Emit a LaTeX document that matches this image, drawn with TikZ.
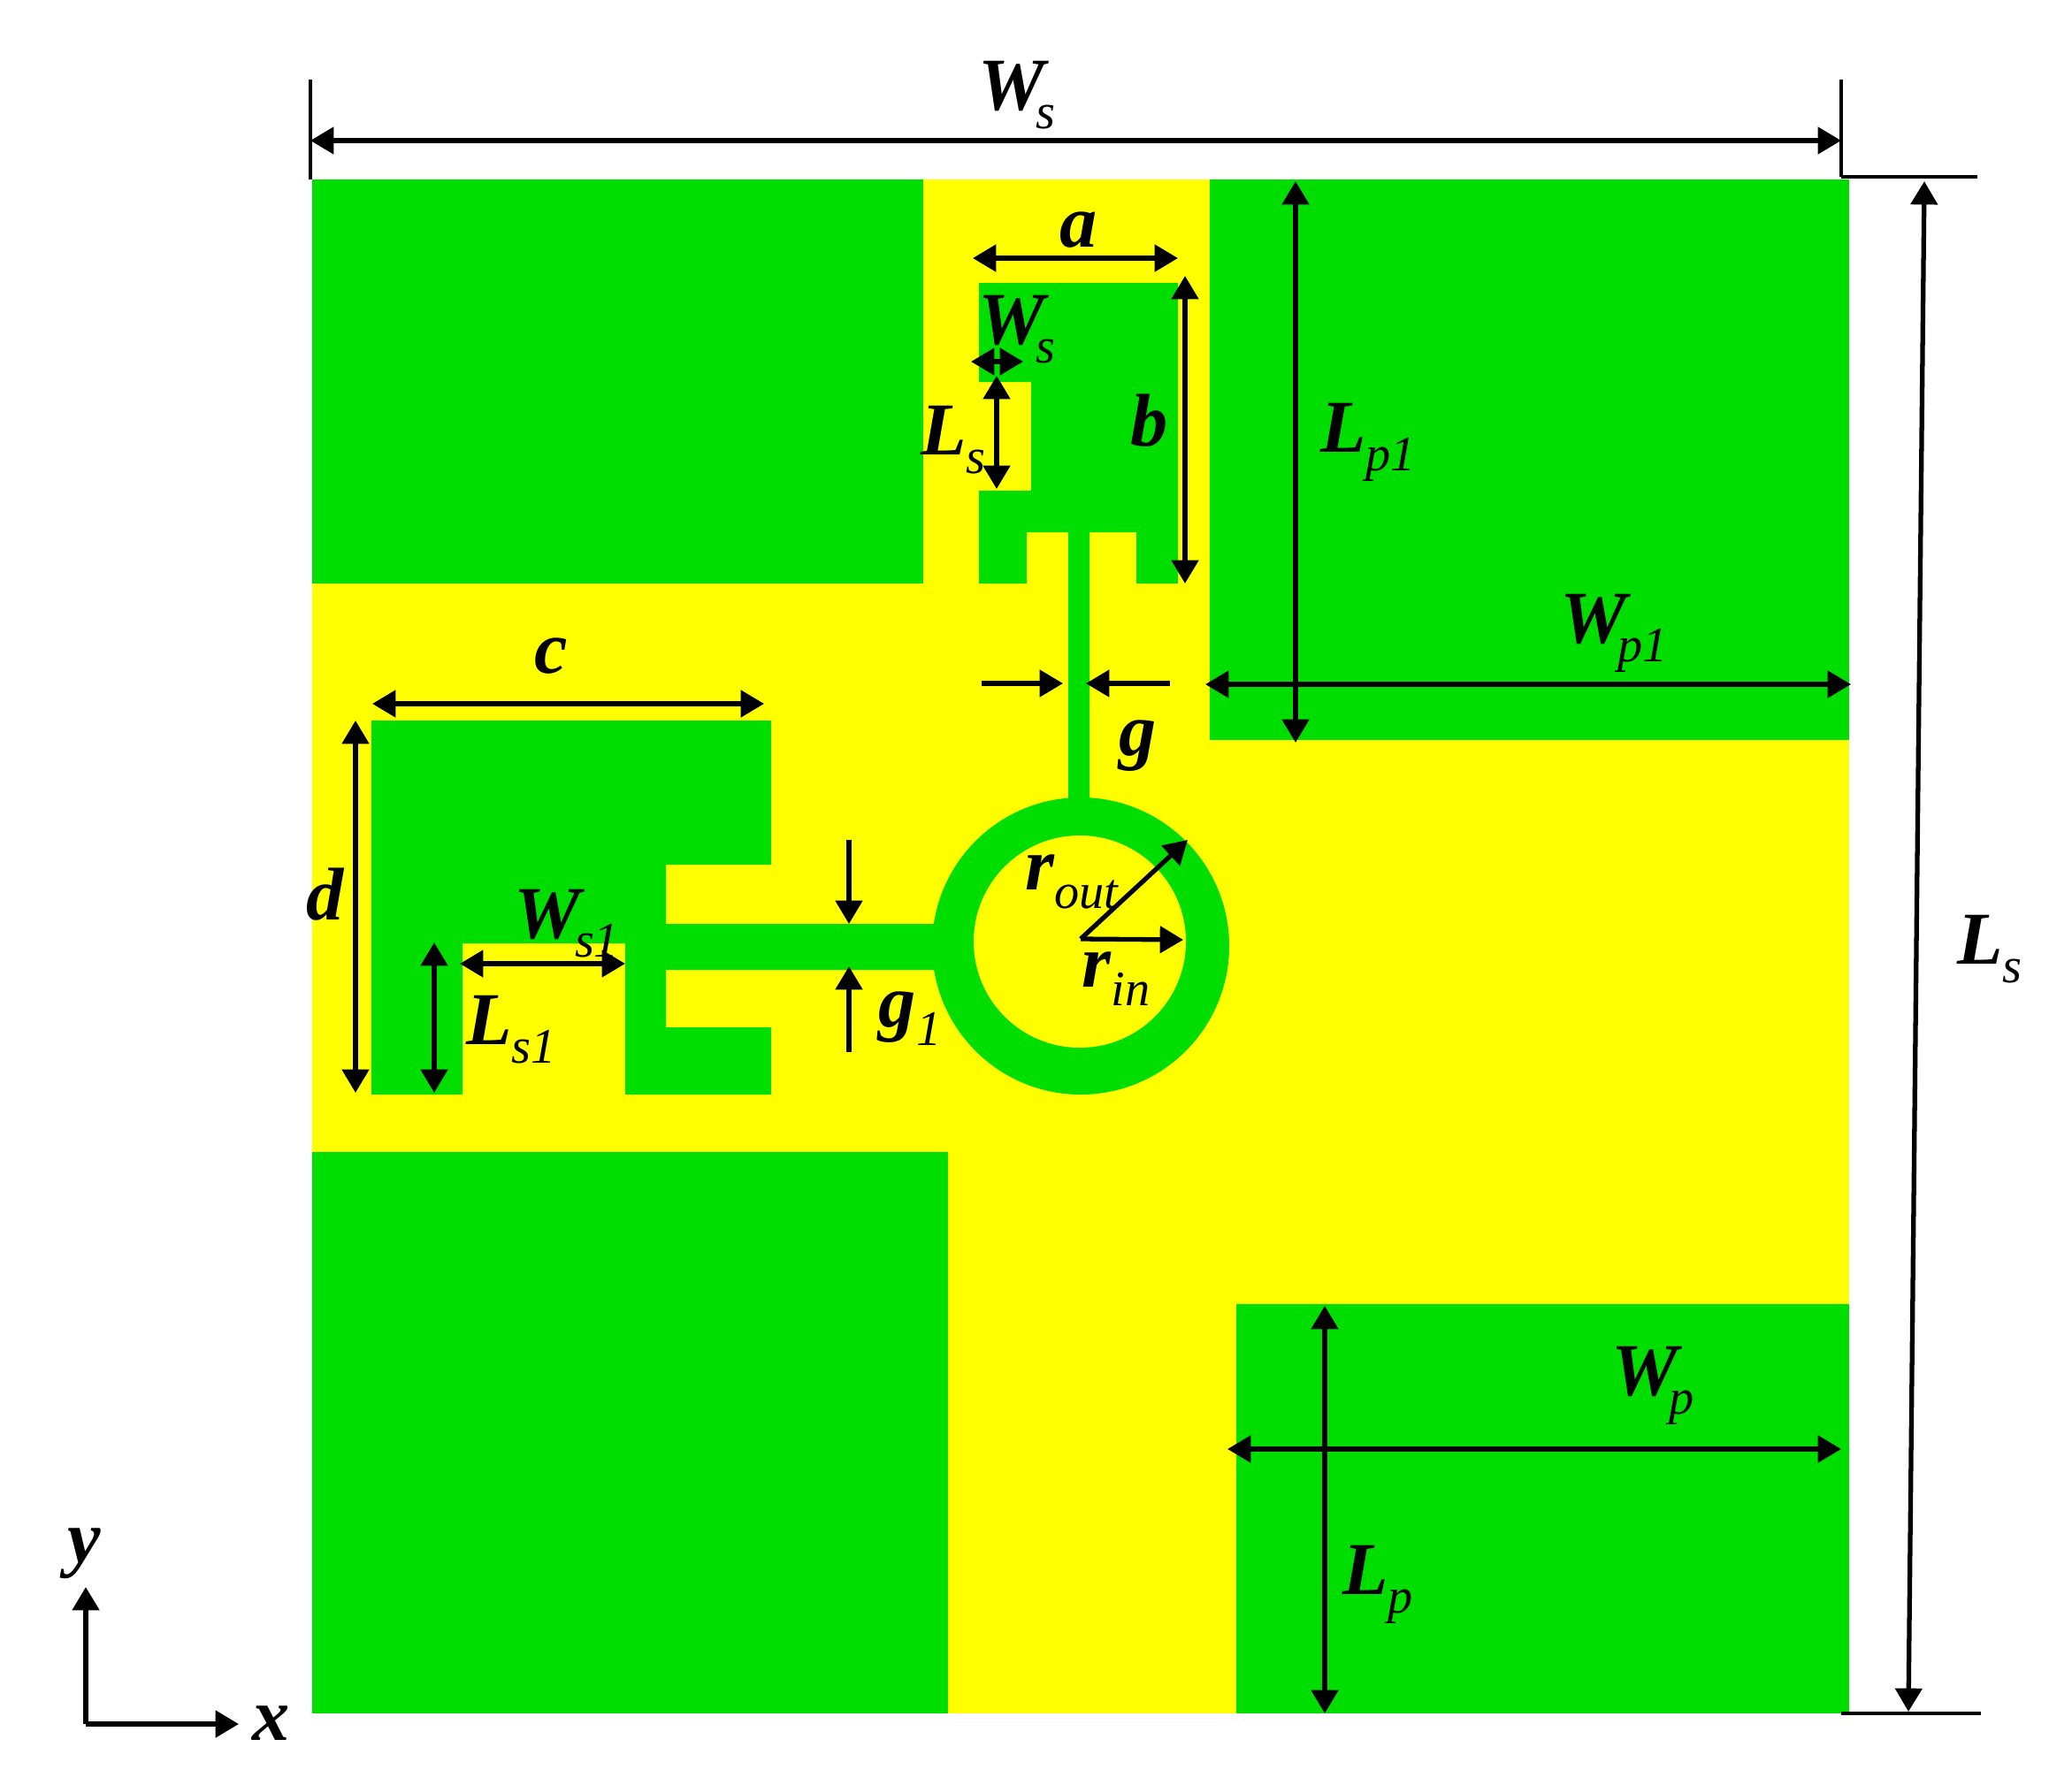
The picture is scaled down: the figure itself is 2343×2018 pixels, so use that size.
\documentclass[tikz,border=0pt]{standalone}
\usepackage{fontspec}
\setmainfont{Liberation Serif}
\usetikzlibrary{arrows.meta}
\definecolor{patchgreen}{RGB}{0,222,0}
\definecolor{subyellow}{RGB}{255,255,0}
\newcommand{\symb}[2]{{\bfseries\itshape #1}\raisebox{-6pt}{\fontsize{16}{16}\selectfont\itshape #2}}
\tikzset{
  patch/.style={fill=patchgreen},
  dimline/.style={line width=1.5pt,{Triangle[length=7.5pt,width=8.5pt]}-{Triangle[length=7.5pt,width=8.5pt]}},
  dimarrow/.style={line width=1.5pt,-{Triangle[length=7.5pt,width=8.5pt]}},
  extline/.style={line width=1.1pt},
  symbol/.style={inner sep=0pt,font=\fontsize{24}{24}\selectfont}
}
\begin{document}
\begin{tikzpicture}[x=0.01cm,y=-0.01cm]
\useasboundingbox (0,0) rectangle (2343,2018);
\fill[subyellow] (353,203) rectangle (2091,1938);
\fill[patch] (353,203) rectangle (1044,660);
\fill[patch] (1368,203) rectangle (2091,837);
\fill[patch] (353,1303) rectangle (1072,1938);
\fill[patch] (1398,1475) rectangle (2091,1938);
\fill[patch] (1107,320) -- (1332,320) -- (1332,660) -- (1285,660) -- (1285,602) -- (1232,602) -- (1232,920) -- (1208,920) -- (1208,602) -- (1161,602) -- (1161,660) -- (1107,660) -- (1107,555) -- (1166,555) -- (1166,432) -- (1107,432) -- cycle;
\fill[patch] (420,815) -- (872,815) -- (872,978) -- (753,978) -- (753,1045) -- (1080,1045) -- (1080,1097) -- (753,1097) -- (753,1162) -- (872,1162) -- (872,1238) -- (707,1238) -- (707,1067) -- (523,1067) -- (523,1238) -- (420,1238) -- cycle;
\fill[patch] (1222,1070) circle [radius=168];
\fill[subyellow] (1221,1065) circle [radius=120];

\draw[extline] (351,90) -- (351,203);
\draw[extline] (2082,90) -- (2082,200);
\draw[extline] (2082,200) -- (2236,200);
\draw[extline] (2082,1938) -- (2240,1938);
\draw[dimline] (351,159) -- (2082,159);
\draw[dimline] (2176,205) -- (2158,1936);
\draw[dimline] (1100,292) -- (1332,292);
\draw[dimline] (1340,312) -- (1340,660);
\draw[dimline] (1098,409) -- (1157,409);
\draw[dimline] (1127,425) -- (1127,553);
\draw[dimline] (421,796) -- (864,796);
\draw[dimline] (402,815) -- (402,1236);
\draw[dimline] (491,1066) -- (491,1236);
\draw[dimline] (520,1090) -- (707,1090);
\draw[dimarrow] (960,950) -- (960,1045);
\draw[dimarrow] (960,1190) -- (960,1093);
\draw[dimarrow] (1110,773) -- (1202,773);
\draw[dimarrow] (1323,773) -- (1228,773);
\draw[dimline] (1363,774) -- (2093,774);
\draw[dimline] (1465,205) -- (1465,840);
\draw[dimline] (1498,1477) -- (1498,1938);
\draw[dimline] (1388,1639) -- (2082,1639);
\coordinate (centre) at (1222,1062);
\draw[dimarrow,line join=miter] (centre) -- (1343,950);
\draw[dimarrow] (centre) -- (1338,1063);
\coordinate (origin) at (97,1950);
\draw[dimarrow] (origin) -- (97,1795);
\draw[dimarrow] (origin) -- (270,1950);

\node[symbol] (labelWs) at (1150,108) {\symb{W\kern-3pt}{s}};
\node[symbol] (labelLs) at (2250,1074) {\symb{L}{s}};
\node[symbol] (labela) at (1220,270) {\symb{a}{}};
\node[symbol] (labelb) at (1300,486) {\symb{b}{}};
\node[symbol] (labelWsn) at (1150,373) {\symb{W\kern-3pt}{s}};
\node[symbol] (labelLsn) at (1078,498) {\symb{L}{s}};
\node[symbol] (labelc) at (623,752) {\symb{c}{}};
\node[symbol] (labeld) at (368,1022) {\symb{d}{}};
\node[symbol] (labelLsone) at (578,1165) {\symb{L}{s1}};
\node[symbol] (labelWsone) at (641,1045) {\symb{W\kern-2pt}{s1}};
\node[symbol] (labelgone) at (1029,1152) {\symb{g}{1}};
\node[symbol] (labelg) at (1287,845) {\symb{g}{}};
\node[symbol] (labelWpone) at (1825,716) {\symb{W\kern-3pt}{p1}};
\node[symbol] (labelLpone) at (1547,500) {\symb{L}{p1}};
\node[symbol] (labelLp) at (1558,1792) {\symb{L}{p}};
\node[symbol] (labelWp) at (1869,1567) {\symb{W\kern-3pt}{p}};
\node[symbol] (labelrout) at (1212,997) {\symb{r}{out}};
\node[symbol] (labelrin) at (1262,1107) {\symb{r}{in}};
\node[symbol] (labely) at (95,1759) {\symb{y}{}};
\node[symbol] (labelx) at (307,1960) {\symb{x}{}};
\end{tikzpicture}
\end{document}
